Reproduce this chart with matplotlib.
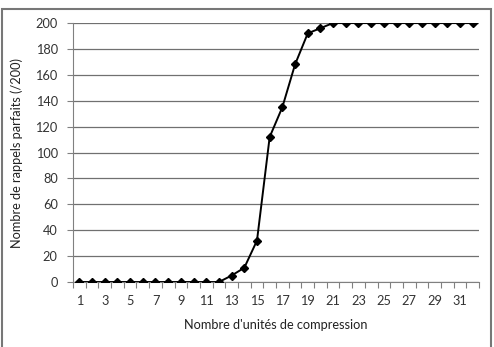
import matplotlib
matplotlib.use('Agg')
import matplotlib.pyplot as plt
from matplotlib.patches import Rectangle

units = list(range(1, 33))
rappels = [0, 0, 0, 0, 0, 0, 0, 0, 0, 0, 0, 0,
           5, 11, 32, 112, 135, 168, 192, 196,
           200, 200, 200, 200, 200, 200, 200, 200, 200, 200, 200, 200]
yticks = [0, 20, 40, 60, 80, 100, 120, 140, 160, 180, 200]

plt.rcParams['font.family'] = ['Lato', 'DejaVu Sans']

fig = plt.figure(figsize=(4.94, 3.47), dpi=100)
ax = fig.add_axes([0.1478, 0.1873, 0.8219, 0.7464])

# outer chart frame
fig.patches.append(Rectangle((0.005, -0.05), 0.989, 1.025, transform=fig.transFigure,
                             fill=False, edgecolor='#777777', linewidth=1.5))

ax.plot(units, rappels, color='black', linewidth=1.4, marker='D', markersize=4,
        zorder=3)

ax.set_xlim(0.5, 32.5)
ax.set_ylim(0, 200)
ax.set_yticks(yticks)
ax.yaxis.grid(True, color='#707070', linewidth=0.9)
ax.set_axisbelow(True)

ax.set_xticks([u - 0.5 for u in units] + [32.5])
ax.set_xticklabels([])
ax.set_xticks(units[::2], minor=True)
ax.set_xticklabels([str(u) for u in units[::2]], minor=True)
ax.tick_params(axis='x', which='major', length=4, color='#808080', direction='out')
ax.tick_params(axis='x', which='minor', length=0, pad=9, labelsize=9.2, colors='#333333')
ax.tick_params(axis='y', length=4, color='#808080', labelsize=9.2, colors='#333333', pad=7)

for side in ['top', 'right']:
    ax.spines[side].set_visible(False)
for side in ['left', 'bottom']:
    ax.spines[side].set_color('#808080')

ax.set_xlabel("Nombre d'unités de compression", fontsize=9.2, color='#222222', labelpad=9)
ax.set_ylabel('Nombre de rappels parfaits (/200)', fontsize=9.2, color='#222222', labelpad=9)

fig.savefig('out.png', dpi=100)
